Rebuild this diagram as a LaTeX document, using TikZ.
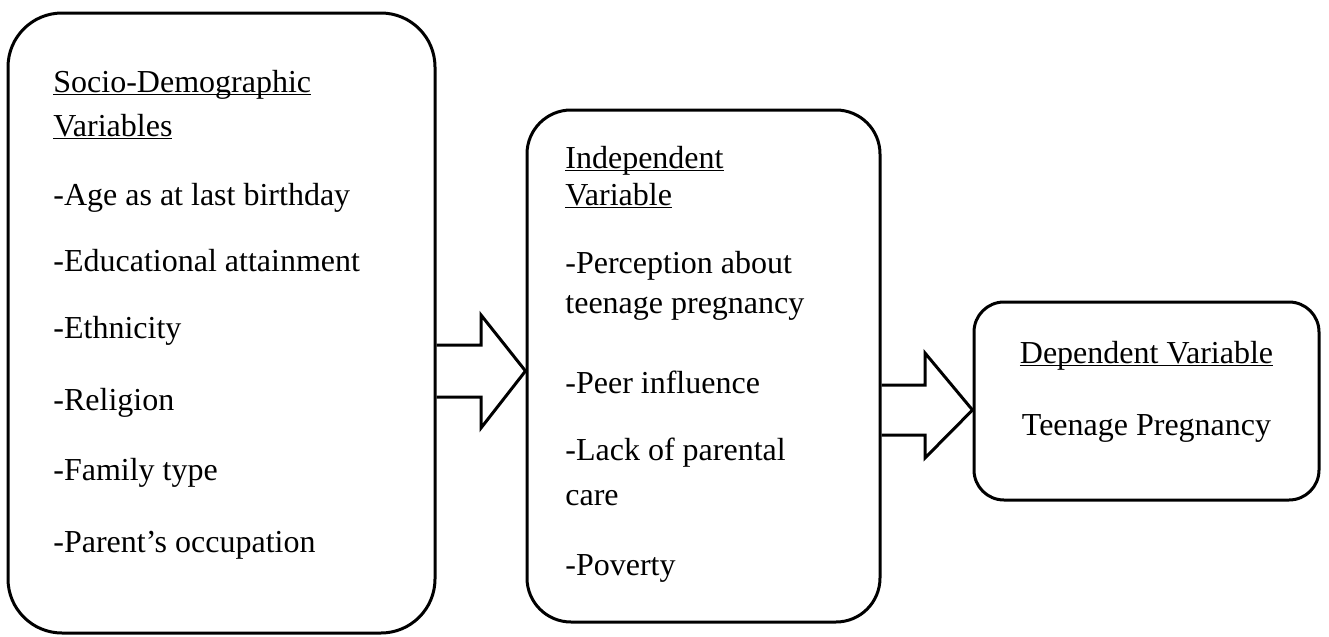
\documentclass[tikz,border=0pt]{standalone}
\usepackage{fontspec}
\setmainfont{Liberation Serif}
\newcommand\undl[1]{\setbox0\hbox{#1}\rlap{\rule[-1.6pt]{\wd0}{0.8pt}}\box0}

\begin{document}
\begin{tikzpicture}[x=0.5pt, y=-0.5pt,
    framebox/.style={draw, line width=1.5pt, inner sep=0pt, rectangle},
    txt/.style={anchor=base west, inner sep=0pt, font=\fontsize{16pt}{19pt}\selectfont},
    ctxt/.style={txt, anchor=base},
    blockarrow/.style={draw, line width=1.5pt, line join=miter}]
    \useasboundingbox (0,0) rectangle (1329,637);

    \node[framebox, rounded corners=27pt, minimum width=213.5pt, minimum height=310pt] (demo) at (221.5,323) {};
    \node[framebox, rounded corners=22pt, minimum width=176.5pt, minimum height=256pt] (indep) at (703.5,366) {};
    \node[framebox, rounded corners=15pt, minimum width=172.5pt, minimum height=99pt] (dep) at (1146.5,401) {};

    \node[txt] (d1) at (53,92) {\undl{Socio-Demographic}};
    \node[txt] (d2) at (53,136) {\undl{Variables}};
    \node[txt] (d3) at (53,205) {-Age as at last birthday};
    \node[txt] (d4) at (53,271) {-Educational attainment};
    \node[txt] (d5) at (53,338) {-Ethnicity};
    \node[txt] (d6) at (53,410) {-Religion};
    \node[txt] (d7) at (53,480) {-Family type};
    \node[txt] (d8) at (53,552) {-Parent’s occupation};

    \node[txt] (i1) at (565,168) {\undl{Independent}};
    \node[txt] (i2) at (565,205) {\undl{Variable}};
    \node[txt] (i3) at (565,273) {-Perception about};
    \node[txt] (i4) at (565,313) {teenage pregnancy};
    \node[txt] (i5) at (565,393) {-Peer influence};
    \node[txt] (i6) at (565,460) {-Lack of parental};
    \node[txt] (i7) at (565,505) {care};
    \node[txt] (i8) at (565,575) {-Poverty};

    \node[ctxt] (p1) at (1146.5,363) {\undl{Dependent Variable}};
    \node[ctxt] (p2) at (1146.5,435) {Teenage Pregnancy};

    \draw[blockarrow] (demo.east |- 0,345) -- (481,345) -- (481,315) -- (indep.west |- 0,371)
        -- (481,428) -- (481,397) -- (demo.east |- 0,397);
    \draw[blockarrow] (indep.east |- 0,385) -- (925,385) -- (925,353) -- (dep.west |- 0,410)
        -- (925,458) -- (925,435) -- (indep.east |- 0,435);
\end{tikzpicture}
\end{document}
